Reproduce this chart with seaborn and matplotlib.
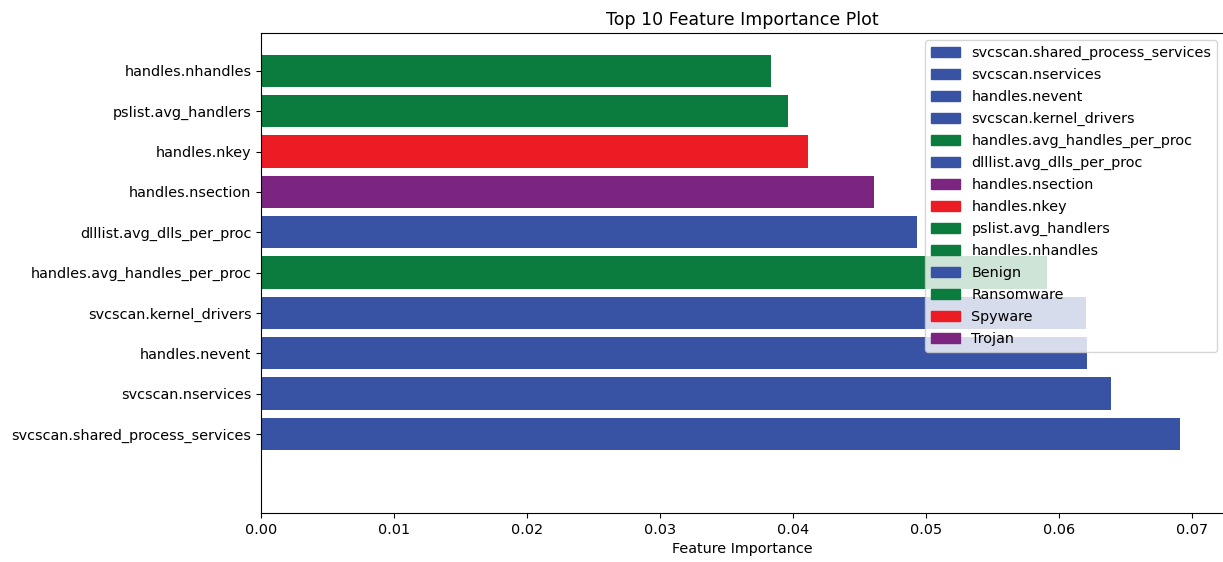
import matplotlib
matplotlib.use("Agg")
import matplotlib.pyplot as plt
from matplotlib.patches import Patch
import pandas as pd
import seaborn as sns

# Top-10 features, listed from most to least important
features = [
    "svcscan.shared_process_services",
    "svcscan.nservices",
    "handles.nevent",
    "svcscan.kernel_drivers",
    "handles.avg_handles_per_proc",
    "dlllist.avg_dlls_per_proc",
    "handles.nsection",
    "handles.nkey",
    "pslist.avg_handlers",
    "handles.nhandles",
]
importance = [0.0691, 0.0639, 0.0621, 0.0620, 0.0591, 0.0493, 0.0461, 0.0411, 0.0396, 0.0383]
category = ["Benign", "Benign", "Benign", "Benign", "Ransomware",
            "Benign", "Trojan", "Spyware", "Ransomware", "Ransomware"]

classes = ["Benign", "Ransomware", "Spyware", "Trojan"]
class_colors = ["#3953a4", "#0c7b3e", "#ec1c24", "#7b2580"]
palette = dict(zip(classes, class_colors))

df = pd.DataFrame({"feature": features, "importance": importance, "category": category})

plt.rcParams["font.size"] = 10.4
plt.rcParams["axes.titlesize"] = 12.5

fig = plt.figure(figsize=(12.23, 5.62), dpi=100)
ax = fig.add_axes([261.3 / 1223, 49 / 562, 963 / 1223, 480 / 562])

# Most important feature at the bottom
order = features[::-1]
sns.barplot(data=df, x="importance", y="feature", hue="category", order=order,
            hue_order=classes, palette=palette, dodge=False, width=0.8,
            saturation=1, linewidth=0, legend=False, orient="h", ax=ax)

ax.set_xlim(0, 0.0724)
ax.set_ylim(len(features) - 1 + 1.96, -0.94)
ax.set_xticks([0.00, 0.01, 0.02, 0.03, 0.04, 0.05, 0.06, 0.07])
ax.set_xticklabels([f"{t:.2f}" for t in ax.get_xticks()])
ax.set_xlabel("Feature Importance")
ax.set_ylabel("")
ax.set_title("Top 10 Feature Importance Plot")

handles = [Patch(color=palette[c], label=f) for f, c in zip(features, category)]
handles += [Patch(color=palette[c], label=c) for c in classes]
ax.legend(handles=handles, loc="upper right", labelspacing=0.55)

fig.savefig("out.png", dpi=100)
